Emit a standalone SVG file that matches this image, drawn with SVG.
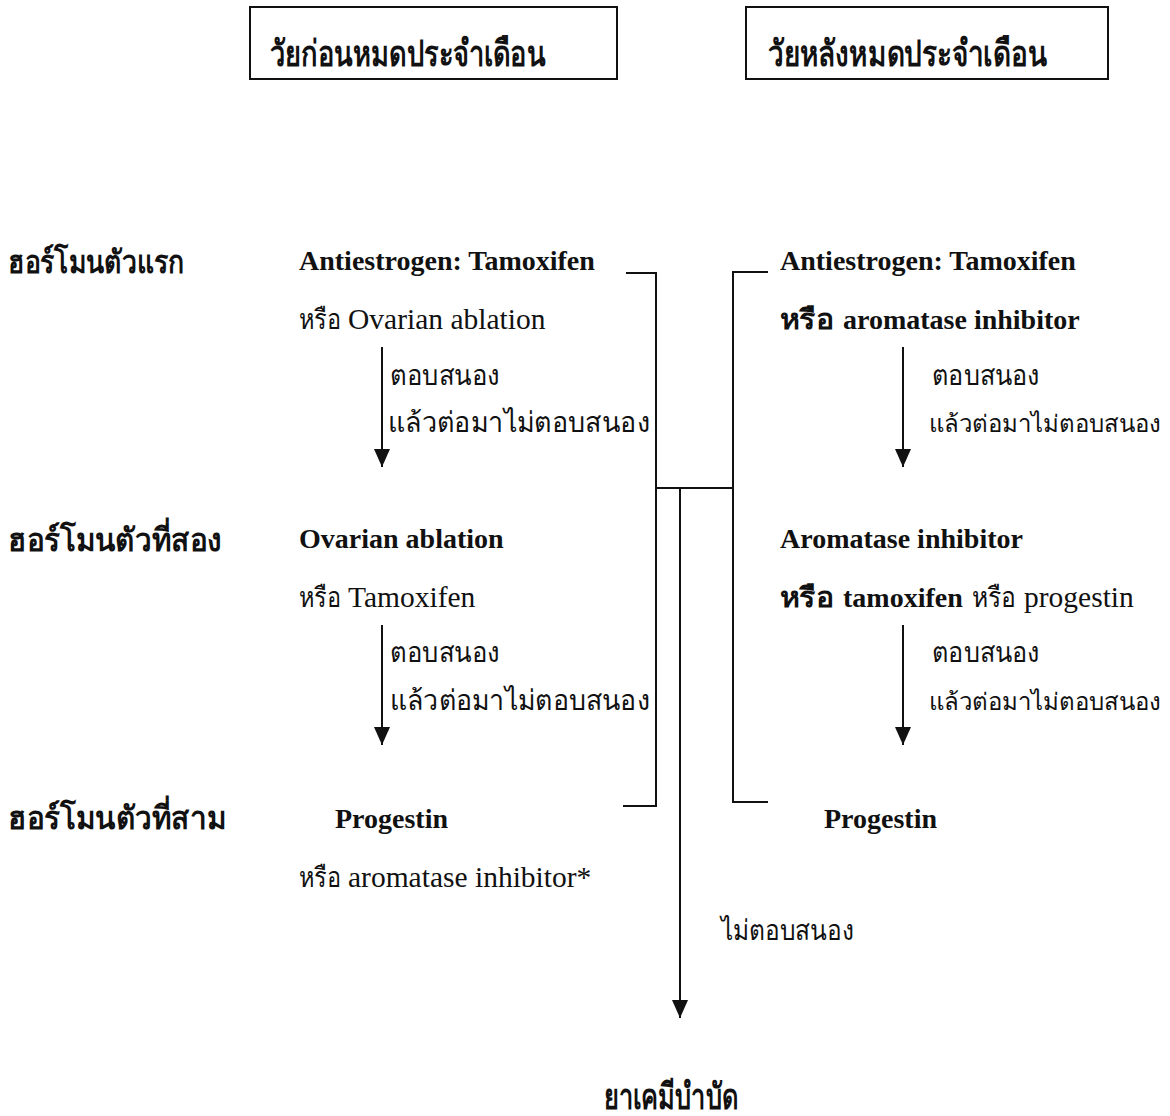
<svg xmlns="http://www.w3.org/2000/svg" width="1170" height="1116" viewBox="0 0 1170 1116">
<style>
text{font-family:"Liberation Serif","DejaVu Serif",serif;fill:#111}
.b{font-weight:bold}
.en{font-size:28px}
.rg{font-size:29.5px}
.th{font-size:28px}
.ths{font-size:24px}
.hd{font-size:36px;font-weight:bold}
.lb{font-size:32px;font-weight:bold}
.ln{stroke:#111;stroke-width:2;fill:none}
</style>
<defs>
<marker id="ah" viewBox="0 0 18 16" refX="18" refY="8" markerWidth="18" markerHeight="16" markerUnits="userSpaceOnUse" orient="auto">
<path d="M0,0 L18,8 L0,16 Z" fill="#111"/>
</marker>
</defs>
<rect width="1170" height="1116" fill="#fff"/>
<g id="hdr-pre"><rect class="ln" x="250" y="7" width="367" height="72"/><text class="hd" x="270" y="66" textLength="276" lengthAdjust="spacingAndGlyphs">วัยก่อนหมดประจำเดือน</text></g>
<g id="hdr-post"><rect class="ln" x="746" y="7" width="362" height="72"/><text class="hd" x="768" y="66" textLength="279" lengthAdjust="spacingAndGlyphs">วัยหลังหมดประจำเดือน</text></g>
<g id="lbl1"><text class="lb" x="8" y="273" textLength="176" lengthAdjust="spacingAndGlyphs">ฮอร์โมนตัวแรก</text></g>
<g id="lbl2"><text class="lb" x="8" y="551" textLength="214" lengthAdjust="spacingAndGlyphs">ฮอร์โมนตัวที่สอง</text></g>
<g id="lbl3"><text class="lb" x="8" y="829" textLength="218" lengthAdjust="spacingAndGlyphs">ฮอร์โมนตัวที่สาม</text></g>
<g id="pre1">
<text class="en b" x="299" y="270">Antiestrogen: Tamoxifen</text>
<text class="th" x="299" y="329" textLength="42" lengthAdjust="spacingAndGlyphs">หรือ</text><text class="rg" x="348" y="329">Ovarian ablation</text>
</g>
<g id="pre2">
<text class="en b" x="299" y="548">Ovarian ablation</text>
<text class="th" x="299" y="607" textLength="42" lengthAdjust="spacingAndGlyphs">หรือ</text><text class="rg" x="348" y="607">Tamoxifen</text>
</g>
<g id="pre3">
<text class="en b" x="335" y="828">Progestin</text>
<text class="th" x="299" y="887" textLength="42" lengthAdjust="spacingAndGlyphs">หรือ</text><text class="rg" x="348" y="887">aromatase inhibitor*</text>
</g>
<g id="post1">
<text class="en b" x="780" y="270">Antiestrogen: Tamoxifen</text>
<text class="th b" x="780" y="329" textLength="54" lengthAdjust="spacingAndGlyphs">หรือ</text><text class="en b" x="843" y="329">aromatase inhibitor</text>
</g>
<g id="post2">
<text class="en b" x="780" y="548">Aromatase inhibitor</text>
<text class="th b" x="780" y="607" textLength="54" lengthAdjust="spacingAndGlyphs">หรือ</text><text class="en b" x="843" y="607">tamoxifen</text>
<text class="th" x="972" y="607" textLength="44" lengthAdjust="spacingAndGlyphs">หรือ</text><text class="rg" x="1024" y="607">progestin</text>
</g>
<g id="post3"><text class="en b" x="824" y="828">Progestin</text></g>
<g id="chemo"><text class="hd" x="604" y="1109" textLength="134" lengthAdjust="spacingAndGlyphs">ยาเคมีบำบัด</text></g>
<g id="connectors">
<line class="ln" x1="382" y1="347" x2="382" y2="467" marker-end="url(#ah)"/>
<line class="ln" x1="382" y1="625" x2="382" y2="745" marker-end="url(#ah)"/>
<line class="ln" x1="903" y1="347" x2="903" y2="467" marker-end="url(#ah)"/>
<line class="ln" x1="903" y1="625" x2="903" y2="745" marker-end="url(#ah)"/>
<polyline class="ln" points="626,273 656,273 656,806 623,806"/>
<polyline class="ln" points="768,272 733,272 733,802 768,802"/>
<line class="ln" x1="656" y1="488" x2="733" y2="488"/>
<line class="ln" x1="680" y1="488" x2="680" y2="1018" marker-end="url(#ah)"/>
</g>
<g id="labels">
<text class="th" x="390" y="385" textLength="110" lengthAdjust="spacingAndGlyphs">ตอบสนอง</text>
<text class="th" x="388" y="432" textLength="262" lengthAdjust="spacingAndGlyphs">แล้วต่อมาไม่ตอบสนอง</text>
<text class="th" x="390" y="662" textLength="110" lengthAdjust="spacingAndGlyphs">ตอบสนอง</text>
<text class="th" x="390" y="710" textLength="260" lengthAdjust="spacingAndGlyphs">แล้วต่อมาไม่ตอบสนอง</text>
<text class="th" x="932" y="385" textLength="108" lengthAdjust="spacingAndGlyphs">ตอบสนอง</text>
<text class="ths" x="929" y="432" textLength="232" lengthAdjust="spacingAndGlyphs">แล้วต่อมาไม่ตอบสนอง</text>
<text class="th" x="932" y="662" textLength="108" lengthAdjust="spacingAndGlyphs">ตอบสนอง</text>
<text class="ths" x="929" y="710" textLength="232" lengthAdjust="spacingAndGlyphs">แล้วต่อมาไม่ตอบสนอง</text>
<text class="th" x="721" y="940" textLength="133" lengthAdjust="spacingAndGlyphs">ไม่ตอบสนอง</text>
</g>
</svg>
